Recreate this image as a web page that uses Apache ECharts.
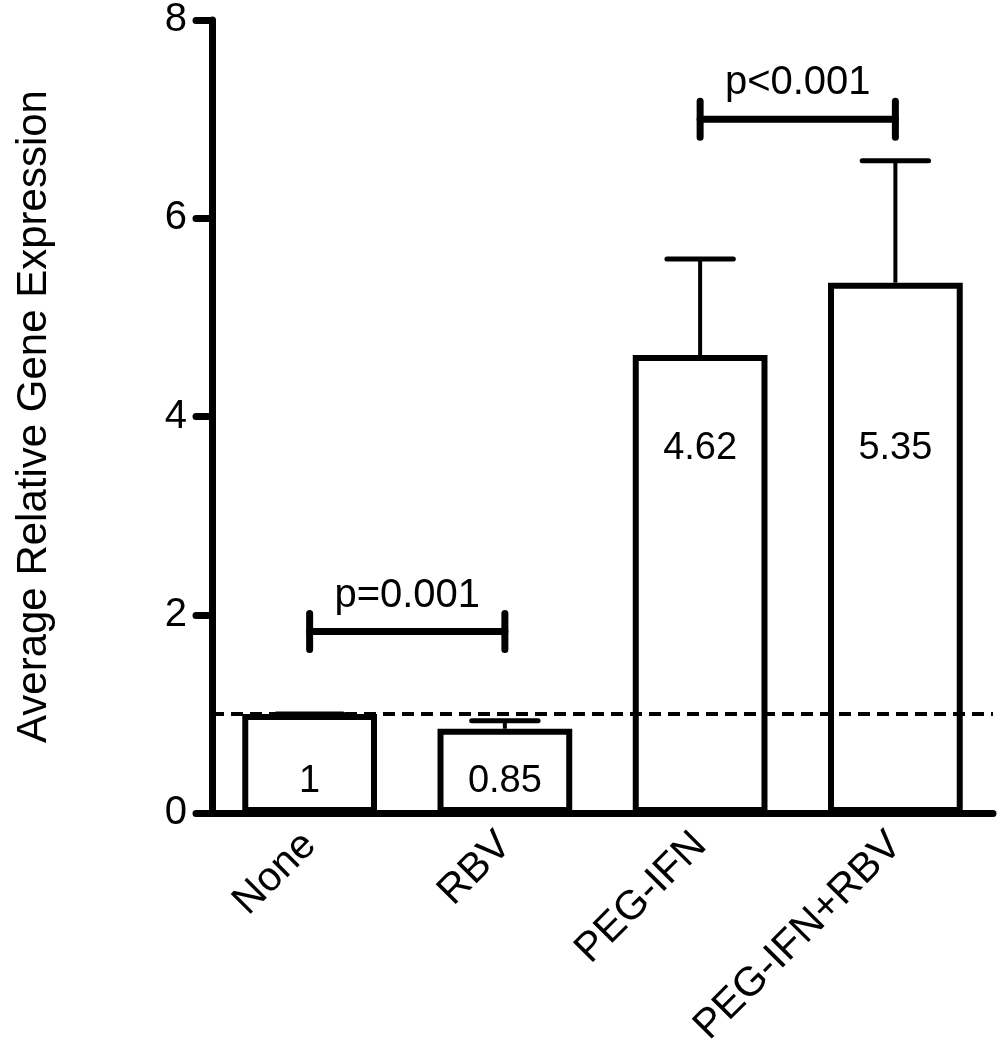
<!DOCTYPE html>
<html>
<head>
<meta charset="utf-8">
<script src="https://cdn.jsdelivr.net/npm/echarts@6/dist/echarts.min.js"></script>
<style>
  html, body { margin: 0; padding: 0; background: #fff; }
  #main { width: 1001px; height: 1050px; }
</style>
</head>
<body>
<div id="main"></div>
<script>
var categories = ['None', 'RBV', 'PEG-IFN', 'PEG-IFN+RBV'];
var means = [1, 0.85, 4.62, 5.35];
var errTops = [1, 0.93, 5.59, 6.58];
var yTicks = [0, 2, 4, 6, 8];
var baseline = 1;
// significance brackets: [from category, to category, height]
var brackets = [[0, 1, 1.83], [2, 3, 7.0]];
var bracketText = ['p=0.001', 'p<0.001'];

var FONT = 'Liberation Sans, Arial, Helvetica, sans-serif';

var chartDom = document.getElementById('main');
var myChart = echarts.init(chartDom);

// where the value text sits inside each bar
function labelAt(v) {
    return v < 2 ? 0.32 : 3.68;
}

var option = {
    animation: false,
    backgroundColor: '#fff',
    grid: { left: 212, right: 8, top: 20, bottom: 237, containLabel: false, outerBoundsMode: 'none' },
    xAxis: {
        type: 'category',
        data: categories,
        axisLine: { lineStyle: { color: '#000', width: 7 } },
        axisTick: { alignWithLabel: true, length: 17, lineStyle: { color: '#000', width: 7, cap: 'round' } },
        axisLabel: { rotate: 45, fontSize: 41, fontFamily: FONT, color: '#000', margin: 26 }
    },
    yAxis: {
        type: 'value',
        min: 0,
        max: 8,
        interval: 2,
        name: 'Average Relative Gene Expression',
        nameLocation: 'middle',
        nameGap: 157,
        nameTextStyle: { fontSize: 42, fontFamily: FONT, color: '#000' },
        axisLine: { show: true, lineStyle: { color: '#000', width: 7 } },
        axisTick: { show: true, length: 16, lineStyle: { color: '#000', width: 7, cap: 'round' } },
        axisLabel: {
            fontSize: 40, fontFamily: FONT, color: '#000', margin: 25,
            formatter: function (v) { return yTicks.indexOf(v) >= 0 ? String(v) : ''; }
        },
        splitLine: { show: false }
    },
    series: [
        {
            type: 'bar',
            data: means,
            barWidth: '69%',
            itemStyle: { color: '#fff', borderColor: '#000', borderWidth: 6 },
            z: 3,
            markLine: {
                silent: true,
                symbol: 'none',
                label: { show: false },
                lineStyle: { color: '#000', width: 4, type: [12, 7] },
                data: [{ yAxis: baseline }]
            }
        },
        {
            type: 'custom',
            z: 2,
            data: means.map(function (m, i) { return [i, m, errTops[i]]; }),
            renderItem: function (params, api) {
                var x = api.value(0);
                var lo = api.coord([x, api.value(1)]);
                var hi = api.coord([x, api.value(2)]);
                var half = api.size([1, 0])[0] * 0.17;
                return {
                    type: 'group',
                    children: [
                        { type: 'line', shape: { x1: lo[0], y1: lo[1], x2: hi[0], y2: hi[1] },
                          style: { stroke: '#000', lineWidth: 4 } },
                        { type: 'line', shape: { x1: hi[0] - half, y1: hi[1], x2: hi[0] + half, y2: hi[1] },
                          style: { stroke: '#000', lineWidth: 5, lineCap: 'round' } }
                    ]
                };
            }
        },
        {
            type: 'custom',
            z: 5,
            data: means.map(function (m, i) { return [i, labelAt(m), m]; }),
            renderItem: function (params, api) {
                var p = api.coord([api.value(0), api.value(1)]);
                return {
                    type: 'text',
                    style: {
                        x: p[0], y: p[1], text: String(means[params.dataIndex]),
                        fill: '#000', font: '38px ' + FONT, align: 'center', verticalAlign: 'middle'
                    }
                };
            }
        },
        {
            type: 'custom',
            z: 5,
            data: brackets,
            renderItem: function (params, api) {
                var a = api.coord([api.value(0), api.value(2)]);
                var b = api.coord([api.value(1), api.value(2)]);
                var h = 18;
                var st = { stroke: '#000', lineWidth: 7, lineCap: 'round' };
                return {
                    type: 'group',
                    children: [
                        { type: 'line', shape: { x1: a[0], y1: a[1], x2: b[0], y2: b[1] }, style: st },
                        { type: 'line', shape: { x1: a[0], y1: a[1] - h, x2: a[0], y2: a[1] + h }, style: st },
                        { type: 'line', shape: { x1: b[0], y1: b[1] - h, x2: b[0], y2: b[1] + h }, style: st },
                        { type: 'text', style: {
                            x: (a[0] + b[0]) / 2, y: a[1] - 36, text: bracketText[params.dataIndex],
                            fill: '#000', font: '40px ' + FONT, align: 'center', verticalAlign: 'middle' } }
                    ]
                };
            }
        }
    ]
};

option && myChart.setOption(option);
</script>
</body>
</html>
